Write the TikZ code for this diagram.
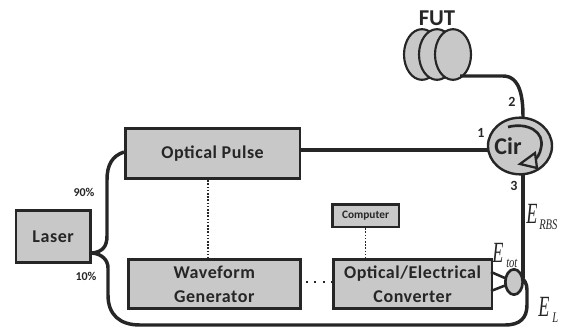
\documentclass[tikz,border=0pt]{standalone}
\usepackage{fontspec}
\usepackage{graphicx}
\setmainfont{Carlito}
\newfontfamily\serifit{Liberation Serif}
\newfontfamily\spaced[LetterSpace=3]{Carlito}
\usetikzlibrary{arrows.meta,shapes.geometric}
\definecolor{boxgray}{HTML}{C8C8C8}
\definecolor{ink}{HTML}{262626}
\newcommand{\bigE}{\scalebox{0.62}[1]{E}}
\newcommand{\subE}[1]{\scalebox{0.72}[1]{#1}}
\tikzset{
 x=0.75pt,y=-0.75pt,
 box/.style={draw=ink,fill=boxgray,line width=1.9pt,inner sep=0pt,align=center,font=\spaced\bfseries\fontsize{13.5}{18}\selectfont,text=ink,anchor=north west},
 fiber/.style={draw=ink,line width=2.6pt},
 dotline/.style={draw=ink,line width=0.9pt,dash pattern=on 1.2pt off 1.2pt},
 dotwide/.style={draw=ink,line width=1.2pt,dash pattern=on 1.3pt off 5pt},
 lab/.style={font=\bfseries\fontsize{9}{10}\selectfont,text=ink,inner sep=0pt},
 num/.style={font=\bfseries\fontsize{10.5}{11}\selectfont,text=ink,inner sep=0pt},
 coil/.style={draw=ink,fill=boxgray,line width=1.6pt,ellipse,minimum width=27pt,minimum height=38pt,inner sep=0pt},
 emath/.style={font=\serifit\itshape\fontsize{22}{22}\selectfont,text=ink,inner sep=0pt},
 esub/.style={font=\serifit\itshape\fontsize{11}{11}\selectfont,text=ink,inner sep=0pt},
}
\begin{document}
\begin{tikzpicture}
\useasboundingbox (0,0) rectangle (561,328);
\coordinate (lo) at (89,253);
\coordinate (p2) at (523,117);
\coordinate (p3) at (523,174);
% FUT
\node[coil] (c1) at (422,54.5) {};
\node[coil] (c2) at (437,54.5) {};
\node[coil] (c3) at (453,54.5) {};
\node[font=\bfseries\fontsize{17}{17}\selectfont,text=ink,inner sep=0pt] (fut) at (437,18.5) {FUT};
% boxes
\node[box,minimum width=131pt,minimum height=37.5pt] (pulse) at (124,127) {Optical Pulse};
\node[box,minimum width=56pt,minimum height=39pt] (laser) at (14.5,209) {Laser};
\node[box,minimum width=129pt,minimum height=37pt] (wave) at (127,258) {Waveform\\Generator};
\node[box,minimum width=119pt,minimum height=37pt] (oe) at (332,258) {Optical/Electrical\\Converter};
\node[box,minimum width=50pt,minimum height=17pt,font=\bfseries\fontsize{8.5}{9}\selectfont] (comp) at (331,203) {Computer};
% fibers
\coordinate (futout) at (460,76);
\draw[fiber] (futout) -- (503,76) to[out=0,in=90] (p2);
\coordinate (pout) at (299,150);
\coordinate (cin) at (488,150);
\draw[fiber] (pout) -- (cin);
\coordinate (pin) at (124,152);
\draw[fiber] (lo) -- (92,253) .. controls (102,252) and (107,247) .. (107,236) -- (107,180) .. controls (107,165) and (112,156) .. (pin);
\coordinate (coupT) at (523,278);
\draw[fiber] (p3) -- (coupT);
\draw[fiber] (lo) -- (92,253) .. controls (102,254) and (108,260) .. (108,268) -- (108,295) .. controls (108,315) and (120,325) .. (140,325)
 -- (505,325) .. controls (520,325) and (527,318) .. (527,305) -- (527,290) .. controls (527,283) and (524,280) .. (522,278);
% coupler
\coordinate (oeA) at (491,272);
\coordinate (oeB) at (491,291);
\coordinate (cpl) at (514,282);
\draw[fiber,line width=1.9pt] (oeA) -- (cpl) -- (oeB);
\node[draw=ink,fill=boxgray,line width=2pt,ellipse,minimum width=13pt,minimum height=19pt,inner sep=0pt] (coupler) at (514,282) {};
% circulator
\node[draw=ink,fill=boxgray,line width=1.8pt,ellipse,minimum width=48pt,minimum height=42.5pt,inner sep=0pt] (cir) at (520,146) {};
\node[font=\bfseries\fontsize{18}{18}\selectfont,text=ink,inner sep=0pt] (cirlab) at (508,146) {Cir};
\coordinate (arcA) at (508,127);
\coordinate (arcB) at (534,161);
\draw[draw=ink,line width=2pt] (arcA) .. controls (528,122) and (545,132) .. (541,148) .. controls (540,154) and (537,158) .. (arcB);
\coordinate (triA) at (535,153);
\coordinate (triB) at (520,164);
\coordinate (triC) at (537,168);
\draw[draw=ink,fill=boxgray,line width=1.7pt,line join=miter] (triA) -- (triB) -- (triC) -- cycle;
% dotted
\coordinate (d1) at (208,177);
\coordinate (d2) at (208,258);
\draw[dotline] (d1) -- (d2);
\draw[dotline] (comp.south) -- (comp.south |- oe.north);
\coordinate (d3) at (306,282);
\coordinate (d4) at (332,282);
\draw[dotwide] (d3) -- (d4);
% labels
\node[lab] (l90) at (84,192) {90\%};
\node[lab] (l10) at (86,276) {10\%};
\node[num] (n1) at (481,133) {1};
\node[num] (n2) at (512,102) {2};
\node[num] (n3) at (514,186) {3};
\node[emath,anchor=base west] (erbs) at (526,223) {\bigE};
\node[esub,anchor=base west] (erbss) at (539,229) {\subE{RBS}};
\node[emath,anchor=base west] (etot) at (492,262) {\bigE};
\node[esub,anchor=base west] (etots) at (506,267) {\subE{tot}};
\node[emath,anchor=base west] (elo) at (538,316) {\bigE};
\node[esub,anchor=base west] (elos) at (552,322) {\subE{L}};
\end{tikzpicture}
\end{document}
